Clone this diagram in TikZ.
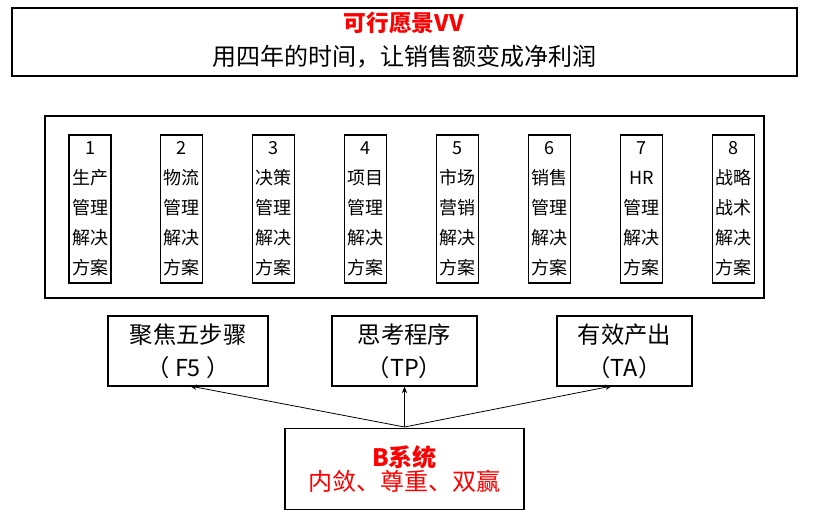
\documentclass[tikz,border=0pt]{standalone}
\usepackage{fontspec}
\setmainfont{Noto Sans CJK SC}
\usetikzlibrary{arrows.meta}
\begin{document}
\begin{tikzpicture}[x=0.75pt,y=-0.75pt,
  box/.style={draw,line width=0.8pt},
  col/.style={font=\fontsize{13.5}{22.5}\selectfont,align=center,inner sep=0pt},
  lbl/.style={font=\fontsize{17.5}{25}\selectfont,align=center},
  arr/.style={-{Stealth[length=5pt,width=4pt]},line width=0.6pt}]
\useasboundingbox (0,0) rectangle (814,515);
\draw[box] (12,8) rectangle (797,76);
\node[font=\fontsize{17}{18}\selectfont\bfseries,text=red] (title) at (404,23) {可行愿景VV};
\node[font=\fontsize{18}{20}\selectfont] (sub) at (404,57) {用四年的时间，让销售额变成净利润};
\draw[box] (45,116) rectangle (764,298);
\foreach \i/\n/\a/\b/\c/\d in {0/1/生产/管理/解决/方案,1/2/物流/管理/解决/方案,2/3/决策/管理/解决/方案,3/4/项目/管理/解决/方案,4/5/市场/营销/解决/方案,5/6/销售/管理/解决/方案,6/7/HR/管理/解决/方案,7/8/战略/战术/解决/方案}{
  \pgfmathsetmacro\xx{69+\i*91.9}
  \draw[box] (\xx,135) rectangle ++(42,148);
  \node[col] (c\i) at (\xx+21,209) {\n\\\a\\\b\\\c\\\d};
}
\node[box,minimum width=160*0.75pt,minimum height=70*0.75pt,lbl,inner sep=0pt] (f5) at (188,351) {聚焦五步骤\\（ F5 ）};
\node[box,minimum width=145*0.75pt,minimum height=70*0.75pt,lbl,inner sep=0pt] (tp) at (404.5,351) {思考程序\\（TP）};
\node[box,minimum width=135*0.75pt,minimum height=70*0.75pt,lbl,inner sep=0pt] (ta) at (624.5,351) {有效产出\\（TA）};
\node[box,minimum width=239*0.75pt,minimum height=81*0.75pt,inner sep=0pt,align=center,text=red] (b) at (404.5,469)
  {{\fontsize{18}{28}\selectfont\bfseries B系统}\\{\fontsize{18}{28}\selectfont 内敛、尊重、双赢}};
\coordinate (bt) at (404.5,427);
\draw[arr] (bt) -- (190,386);
\draw[arr] (bt) -- (tp.south);
\draw[arr] (bt) -- (612,386);
\end{tikzpicture}
\end{document}
